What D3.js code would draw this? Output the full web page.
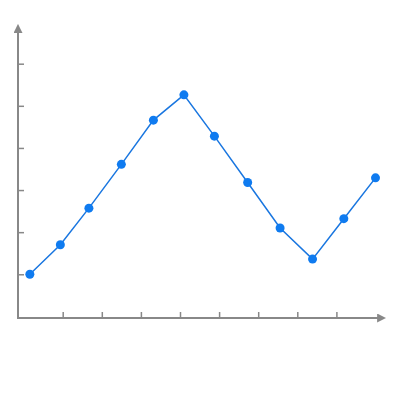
<!DOCTYPE html>
<html lang="en">
<head>
    <meta charset="UTF-8">
    <title>Line chart</title>
    <script src="https://cdn.jsdelivr.net/npm/d3@7"></script>
    <style>
        body { margin: 0; background: #fff; }
    </style>
</head>
<body>
<script>
    var width = 400;
    var height = 400;

    // data (x in axis-tick units)
    var xs = [0.16, 0.94, 1.67, 2.50, 3.32, 4.10, 4.88, 5.73, 6.56, 7.39, 8.19, 9.00];
    var values = [1.00, 1.70, 2.57, 3.61, 4.66, 5.26, 4.28, 3.18, 2.10, 1.36, 2.32, 3.29];
    var yTicks = [1, 2, 3, 4, 5, 6];
    var xTicks = [1, 2, 3, 4, 5, 6, 7, 8];

    var originX = 18, originY = 318;

    var svg = d3.select("body").append("svg")
        .attr("width", width).attr("height", height);

    var x = d3.scaleLinear().domain([0, 8]).range([23.6, 336.4]);
    var y = d3.scaleLinear().domain([0, 6]).range([316.4, 63.7]);

    var axisColor = "#888";

    // arrow head
    svg.append("defs").append("marker")
        .attr("id", "arrow")
        .attr("viewBox", "0 0 10 10")
        .attr("refX", 1).attr("refY", 5)
        .attr("markerWidth", 4.5).attr("markerHeight", 4.5)
        .attr("markerUnits", "strokeWidth")
        .attr("orient", "auto")
        .append("path")
        .attr("d", "M0,0 L10,5 L0,10 z")
        .attr("fill", axisColor);

    // x axis: ticks pointing up
    var xAxis = d3.axisTop(x).tickValues(xTicks).tickSize(6).tickFormat("");
    var gx = svg.append("g")
        .attr("transform", "translate(0," + originY + ")")
        .call(xAxis);
    gx.select(".domain").remove();
    gx.selectAll(".tick line").attr("stroke", axisColor).attr("stroke-width", 1.5);

    // y axis: ticks pointing right
    var yAxis = d3.axisRight(y).tickValues(yTicks).tickSize(6).tickFormat("");
    var gy = svg.append("g")
        .attr("transform", "translate(" + originX + ",0)")
        .call(yAxis);
    gy.select(".domain").remove();
    gy.selectAll(".tick line").attr("stroke", axisColor).attr("stroke-width", 1.5);

    svg.append("line")
        .attr("x1", originX - 1).attr("y1", originY)
        .attr("x2", 378).attr("y2", originY)
        .attr("stroke", axisColor).attr("stroke-width", 2)
        .attr("marker-end", "url(#arrow)");
    svg.append("line")
        .attr("x1", originX).attr("y1", originY + 1)
        .attr("x2", originX).attr("y2", 32)
        .attr("stroke", axisColor).attr("stroke-width", 2)
        .attr("marker-end", "url(#arrow)");

    // line
    var line = d3.line()
        .x(function(d, i) { return x(xs[i]); })
        .y(function(d) { return y(d); });
    svg.append("path")
        .datum(values)
        .attr("fill", "none")
        .attr("stroke", "#1976e0")
        .attr("stroke-width", 1.5)
        .attr("d", line);

    svg.selectAll("circle")
        .data(values)
        .enter()
        .append("circle")
        .attr("cx", function(d, i) { return x(xs[i]); })
        .attr("cy", function(d) { return y(d); })
        .attr("r", 4.5)
        .attr("fill", "#0f7bf0");
</script>
</body>
</html>
